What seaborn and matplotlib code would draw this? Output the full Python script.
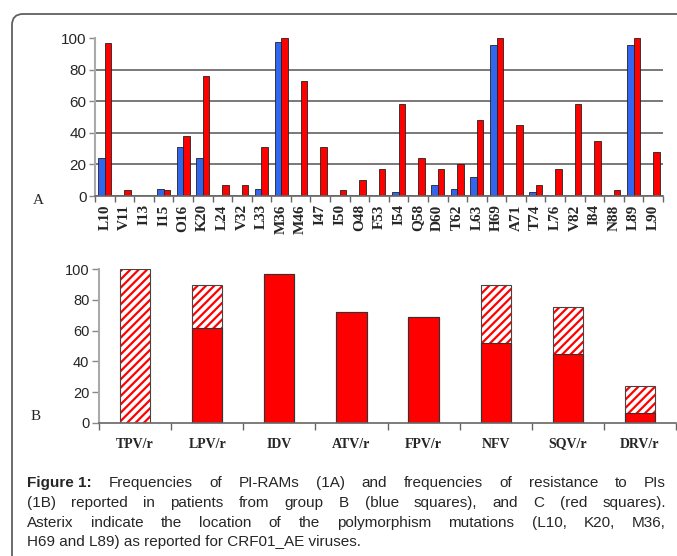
import matplotlib
matplotlib.use("Agg")
import matplotlib.pyplot as plt
import seaborn as sns
import numpy as np
import pandas as pd
from matplotlib.patches import FancyBboxPatch
from matplotlib.ticker import FixedLocator

# Panel A: PI-RAM frequencies per position, group B (blue) and C (red)
mutations = ["L10", "V11", "I13", "I15", "O16", "K20", "L24", "V32", "L33", "M36",
             "M46", "I47", "I50", "O48", "F53", "I54", "Q58", "D60", "T62", "L63",
             "H69", "A71", "T74", "L76", "V82", "I84", "N88", "L89", "L90"]
group_b = [24, 0, 0, 4.5, 31, 24, 0, 0, 4.5, 97.5,
           0, 0, 0, 0, 0, 2.7, 0, 7, 4.5, 12,
           95.5, 0, 2.7, 0, 0, 0, 0, 95.5, 0]
group_c = [97, 3.5, 0, 3.5, 38, 76, 7, 7, 31, 100,
           72.5, 31, 3.5, 10, 17, 58.5, 24, 17, 20.5, 48,
           100, 45, 7, 17, 58.5, 35, 3.5, 100, 28]

# Panel B: resistance to PIs (solid part and hatched total)
drugs = ["TPV/r", "LPV/r", "IDV", "ATV/r", "FPV/r", "NFV", "SQV/r", "DRV/r"]
resist_solid = [0, 62, 97, 72, 69, 52, 45, 6.5]
resist_total = [100, 89.5, 97, 72, 69, 89.5, 75.5, 24]

caption_lines = [
    [("Figure 1:", "bold"), ("Frequencies", "normal"), ("of", "normal"), ("PI-RAMs", "normal"),
     ("(1A)", "normal"), ("and", "normal"), ("frequencies", "normal"), ("of", "normal"),
     ("resistance", "normal"), ("to", "normal"), ("PIs", "normal")],
    "(1B) reported in patients from group B (blue squares), and C (red squares).",
    "Asterix indicate the location of the polymorphism mutations (L10, K20, M36,",
    "H69 and L89) as reported for CRF01_AE viruses.",
]

BLUE = "#3366ee"
RED = "#ff0000"
SERIF = "Liberation Serif"
SANS = "Liberation Sans"
CAP_SIZE = 11

sns.set_style("white")
plt.rcParams["font.family"] = [SANS, "DejaVu Sans"]
plt.rcParams["hatch.linewidth"] = 1.6
plt.rcParams["hatch.color"] = RED

W, H = 677, 556
fig = plt.figure(figsize=(W / 100, H / 100), dpi=100)

# rounded frame around the figure (cut at right and bottom)
frame = FancyBboxPatch((0.12, -0.4), 7.2, 5.42 + 0.4, boxstyle="round,pad=0,rounding_size=0.11",
                       transform=fig.dpi_scale_trans, facecolor="none", edgecolor="#606060",
                       linewidth=1.3, zorder=0)
fig.patches.append(frame)


def px_axes(left, right, y0, y100):
    return fig.add_axes([left / W, 1 - y0 / H, (right - left) / W, (y0 - y100) / H])


# ---------------- Panel A ----------------
ax_a = px_axes(95, 663, 196, 38)
n = len(mutations)
df_a = pd.DataFrame({
    "mutation": mutations * 2,
    "group": ["B"] * n + ["C"] * n,
    "freq": group_b + group_c,
})
df_a["freq"] = df_a["freq"].replace(0, np.nan)
sns.barplot(data=df_a, x="mutation", y="freq", hue="group", order=mutations,
            palette={"B": BLUE, "C": RED}, width=0.66, gap=0, saturation=1,
            edgecolor="#222222", linewidth=0.6, errorbar=None, legend=False, ax=ax_a)

ax_a.set_xlim(-0.5, n - 0.5)
ax_a.set_ylim(0, 100)
ax_a.set_yticks(range(0, 101, 20))
ax_a.set_xlabel("")
ax_a.set_ylabel("")
ax_a.grid(axis="y", color="#555555", linewidth=1.1)
ax_a.set_axisbelow(True)
ax_a.yaxis.get_gridlines()[-1].set_visible(False)
ax_a.set_xticks(range(n))
ax_a.set_xticklabels(mutations, rotation=90, fontfamily=SERIF, fontweight="bold", fontsize=11)
ax_a.xaxis.set_minor_locator(FixedLocator(np.arange(-0.5, n, 1)))
ax_a.tick_params(axis="x", which="major", length=0, pad=6)
ax_a.tick_params(axis="x", which="minor", length=4, width=1, color="#666666", bottom=True)
ax_a.tick_params(axis="y", length=4, width=1, color="#888888", labelsize=11, pad=2, left=True)
for s in ["top", "right"]:
    ax_a.spines[s].set_visible(False)
ax_a.spines["left"].set_color("#aaaaaa")
ax_a.spines["left"].set_linewidth(1.5)
ax_a.spines["bottom"].set_color("#666666")
ax_a.spines["bottom"].set_linewidth(1.2)
fig.text(38 / W, 1 - 200 / H, "A", fontfamily=SERIF, fontsize=11, ha="center", va="center")

# ---------------- Panel B ----------------
ax_b = px_axes(99, 676, 423, 269)
df_b = pd.DataFrame({"drug": drugs, "total": resist_total, "solid": resist_solid})
df_b["solid"] = df_b["solid"].replace(0, np.nan)

# hatched totals
sns.barplot(data=df_b, x="drug", y="total", order=drugs, color="white", saturation=1,
            width=0.42, hatch="////", edgecolor=RED, linewidth=0, errorbar=None, ax=ax_b)
# outline of totals
sns.barplot(data=df_b, x="drug", y="total", order=drugs, color="#444444", fill=False,
            width=0.42, linewidth=0.8, errorbar=None, ax=ax_b)
# solid part
sns.barplot(data=df_b, x="drug", y="solid", order=drugs, color=RED, saturation=1,
            width=0.42, edgecolor="#333333", linewidth=0.8, errorbar=None, ax=ax_b)

nd = len(drugs)
ax_b.set_xlim(-0.5, nd - 0.5)
ax_b.set_ylim(0, 100)
ax_b.set_yticks(range(0, 101, 20))
ax_b.set_xlabel("")
ax_b.set_ylabel("")
ax_b.set_xticks(range(nd))
ax_b.set_xticklabels(drugs, fontfamily=SERIF, fontweight="bold", fontsize=10)
ax_b.xaxis.set_minor_locator(FixedLocator(np.arange(-0.5, nd, 1)))
ax_b.tick_params(axis="x", which="major", length=0, pad=10.5)
ax_b.tick_params(axis="x", which="minor", length=5, width=1, color="#666666", bottom=True)
ax_b.tick_params(axis="y", length=5, width=1, color="#888888", labelsize=10.5, pad=2, left=True)
for s in ["top", "right"]:
    ax_b.spines[s].set_visible(False)
ax_b.spines["left"].set_color("#aaaaaa")
ax_b.spines["left"].set_linewidth(1.5)
ax_b.spines["bottom"].set_color("#666666")
ax_b.spines["bottom"].set_linewidth(1.2)
fig.text(36 / W, 1 - 416 / H, "B", fontfamily=SERIF, fontsize=11, ha="center", va="center")

# ---------------- Caption (justified) ----------------
renderer = fig.canvas.get_renderer()
x_left, x_right = 27, 666
baselines = [487, 507, 527, 546]
for i, line in enumerate(caption_lines):
    if isinstance(line, str):
        words = [(w, "normal") for w in line.split(" ")]
    else:
        words = line
    y = 1 - baselines[i] / H
    if i == len(caption_lines) - 1:
        fig.text(x_left / W, y, " ".join(w for w, _ in words), fontsize=CAP_SIZE, va="baseline")
        continue
    texts = [fig.text(0, y, w, fontsize=CAP_SIZE, fontweight=wt, va="baseline")
             for w, wt in words]
    widths = [t.get_window_extent(renderer).width for t in texts]
    gap = (x_right - x_left - sum(widths)) / (len(texts) - 1)
    x = x_left
    for t, w in zip(texts, widths):
        t.set_x(x / W)
        x += w + gap

fig.savefig("out.png", dpi=100)
